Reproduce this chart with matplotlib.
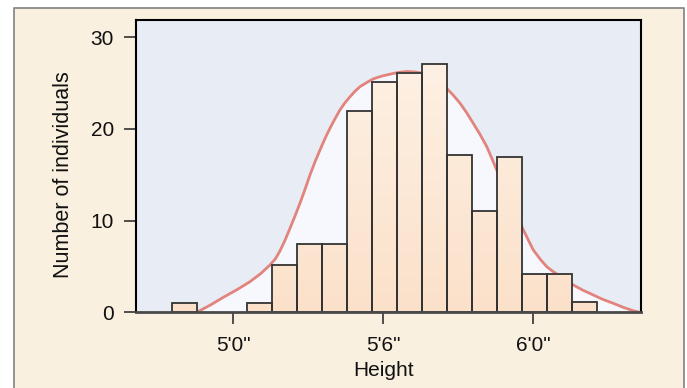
import numpy as np
import matplotlib
matplotlib.use("Agg")
import matplotlib.pyplot as plt
from matplotlib.patches import Rectangle
from matplotlib.lines import Line2D
from matplotlib.colors import LinearSegmentedColormap

plt.rcParams['font.family'] = ['Liberation Sans', 'DejaVu Sans']

# Histogram: heights in inches, 1-inch bins
first_bin = 57.55
bin_width = 1.0
counts = [1, 0, 0, 1, 5.2, 7.4, 7.4, 22.0, 25.1, 26.1, 27.05,
          17.2, 11.0, 16.9, 4.15, 4.15, 1.1]

# Fitted curve
curve_x = [58.55, 59.1, 59.61, 60.15, 60.68, 61.1, 61.48, 61.7, 61.88,
           62.08, 62.28, 62.48, 62.68, 62.88, 63.08, 63.28, 63.48, 63.68,
           63.88, 64.08, 64.28, 64.48, 64.68, 64.88, 65.08, 65.35, 65.61,
           65.95, 66.28, 66.6, 66.95, 67.3, 67.6, 67.9, 68.2, 68.55, 68.8,
           69.08, 69.35, 69.61, 69.88, 70.15, 70.35, 70.55, 70.8, 71.08,
           71.3, 71.55, 71.8, 72.01, 72.3, 72.55, 72.8, 73.08, 73.35,
           73.61, 74.0, 74.41, 74.8, 75.21, 75.6, 76.01, 76.28]
curve_y = [0.0, 0.8, 1.63, 2.45, 3.34, 4.2, 5.16, 5.85, 6.7,
           7.85, 9.16, 10.5, 11.9, 13.4, 14.98, 16.4, 17.7, 18.95,
           20.07, 21.1, 22.07, 22.85, 23.5, 24.1, 24.6, 25.05, 25.45,
           25.75, 25.96, 26.15, 26.25, 26.2, 26.05, 25.7, 25.15, 24.4, 23.7,
           22.8, 21.75, 20.6, 19.4, 18.07, 16.8, 15.5, 13.9, 12.25,
           10.8, 9.34, 7.95, 6.8, 5.75, 4.97, 4.45, 3.95, 3.45,
           2.98, 2.4, 1.89, 1.4, 0.98, 0.55, 0.17, 0.0]

tick_pos = [60, 66, 72]
tick_labels = ["5'0\"", "5'6\"", "6'0\""]
y_ticks = [0, 10, 20, 30]

W, H = 687, 388
fig = plt.figure(figsize=(W / 100, H / 100), dpi=100)
fig.patch.set_facecolor('white')

# cream panel behind everything, open at the bottom
px0, px1, ptop = 13.5 / W, 684 / W, 1 - 7.7 / H
fig.patches.append(Rectangle((px0, 0), px1 - px0, ptop,
                             transform=fig.transFigure, facecolor='#faf0e0',
                             edgecolor='none', zorder=-10))
fig.add_artist(Line2D([px0, px0, px1, px1], [0, ptop, ptop, 0],
                      transform=fig.transFigure, color='#8a8a8a',
                      linewidth=1.3, zorder=-9))

ax = fig.add_axes([136 / W, 1 - 312.3 / H, (641 - 136) / W, (312.3 - 19.7) / H])
ax.set_zorder(1)
ax.set_facecolor('#e7ecf5')

# light area under the curve
ax.fill_between(curve_x, curve_y, 0, color='#f6f8fd', zorder=1, linewidth=0)
ax.plot(curve_x, curve_y, color='#e2837c', linewidth=2.0, zorder=2,
        solid_capstyle='round', solid_joinstyle='round')

# bars with vertical gradient
cmap = LinearSegmentedColormap.from_list('peach', ['#fbe1ca', '#fef3e8'])
ymax = 31.9
for i, c in enumerate(counts):
    if c <= 0:
        continue
    x0 = first_bin + i * bin_width
    grad = np.linspace(0, c / ymax, 64).reshape(-1, 1)
    ax.imshow(grad, extent=[x0, x0 + bin_width, 0, c], origin='lower',
              aspect='auto', cmap=cmap, vmin=0, vmax=1, zorder=3,
              interpolation='bilinear')
    ax.add_patch(Rectangle((x0, 0), bin_width, c, facecolor='none',
                           edgecolor='#333333', linewidth=1.3, zorder=4))

ax.set_xlim(56.12, 76.32)
ax.set_ylim(0, 31.9)

for side in ['left', 'top', 'right']:
    ax.spines[side].set_color('black')
    ax.spines[side].set_linewidth(1.5)
ax.spines['bottom'].set_color('#4a4a4a')
ax.spines['bottom'].set_linewidth(2.0)
ax.spines['bottom'].set_zorder(5)

ax.set_xticks(tick_pos)
ax.set_xticklabels(tick_labels)
ax.set_yticks(y_ticks)
ax.tick_params(axis='both', direction='out', length=8.5, width=1.1,
               color='#222222', labelsize=15, labelcolor='#111111')
ax.tick_params(axis='x', pad=8.5)
ax.tick_params(axis='y', pad=7.5)

ax.set_xlabel('Height', fontsize=15, color='#111111', labelpad=4.5)
ax.set_ylabel('Number of individuals', fontsize=15.5, color='#111111',
              labelpad=12)
ax.xaxis.label.set_x(0.491)
ax.yaxis.label.set_y(0.469)

fig.savefig('out.png', dpi=100)
